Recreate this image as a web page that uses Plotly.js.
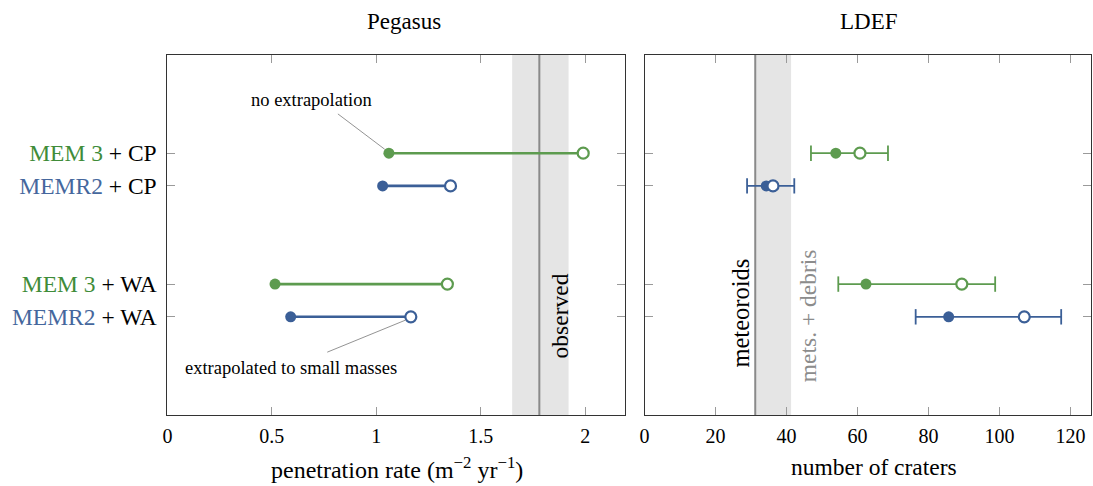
<!DOCTYPE html>
<html>
<head>
<meta charset="utf-8">
<script src="https://cdn.plot.ly/plotly-3.0.1.min.js"></script>
</head>
<body style="margin:0;background:#fff">
<div id="chart"></div>
<script>
// ---- data ----
const rowModels = ['MEM 3', 'MEMR2', 'MEM 3', 'MEMR2'];
const rowSurfaces = ['CP', 'CP', 'WA', 'WA'];
const rowSlots = [0, 1, 4, 5];
const pegasusNoExtrap = [1.06, 1.03, 0.515, 0.59];
const pegasusExtrap = [1.99, 1.355, 1.34, 1.165];
const ldefNoExtrap = [53.9, 34.3, 62.4, 85.7];
const ldefExtrap = [60.7, 36.2, 89.4, 107.0];
const ldefRangeLow = [46.9, 28.9, 54.6, 76.4];
const ldefRangeHigh = [68.6, 42.2, 98.8, 117.4];
const pegasusObserved = 1.78;
const pegasusObservedBand = [1.65, 1.92];
const ldefMeteoroidCraters = 31.2;
const ldefAllCraters = 41.3;
const pegasusTicks = [0, 0.5, 1, 1.5, 2];
const ldefTicks = [0, 20, 40, 60, 80, 100, 120];

// ---- styles ----
const GREEN = '#5d9b4f';
const BLUE = '#3b5f97';
const LABEL_GREEN = '#3f8c39';
const LABEL_BLUE = '#45679d';
const modelColor = m => (m === 'MEM 3' ? GREEN : BLUE);
const labelColor = m => (m === 'MEM 3' ? LABEL_GREEN : LABEL_BLUE);
const FONT = 'Liberation Serif';
const rowColors = rowModels.map(modelColor);
const rowText = rowModels.map((m, i) =>
  '<span style="color:' + labelColor(m) + '">' + m + '</span> + ' + rowSurfaces[i]);

const traces = [];
// Pegasus connecting lines
rowSlots.forEach((s, i) => {
  traces.push({
    x: [pegasusNoExtrap[i], pegasusExtrap[i]], y: [s, s],
    xaxis: 'x', yaxis: 'y', mode: 'lines', hoverinfo: 'skip',
    line: {color: rowColors[i], width: 2.6}, showlegend: false
  });
});
traces.push({
  x: pegasusNoExtrap, y: rowSlots, xaxis: 'x', yaxis: 'y', mode: 'markers',
  marker: {size: 11, color: rowColors, line: {width: 0}}, showlegend: false
});
traces.push({
  x: pegasusExtrap, y: rowSlots, xaxis: 'x', yaxis: 'y', mode: 'markers',
  marker: {size: 11, color: '#ffffff', line: {width: 2.2, color: rowColors}}, showlegend: false
});
// LDEF uncertainty ranges with end caps
rowSlots.forEach((s, i) => {
  traces.push({
    x: [ldefRangeLow[i], ldefRangeHigh[i]], y: [s, s], xaxis: 'x2', yaxis: 'y2',
    mode: 'lines+markers', line: {color: rowColors[i], width: 1.8},
    marker: {symbol: 'line-ns', size: 11, line: {width: 1.8, color: rowColors[i]}},
    showlegend: false
  });
});
traces.push({
  x: ldefNoExtrap, y: rowSlots, xaxis: 'x2', yaxis: 'y2', mode: 'markers',
  marker: {size: 11, color: rowColors, line: {width: 0}}, showlegend: false
});
traces.push({
  x: ldefExtrap, y: rowSlots, xaxis: 'x2', yaxis: 'y2', mode: 'markers',
  marker: {size: 11, color: '#ffffff', line: {width: 2.2, color: rowColors}}, showlegend: false
});

const frame = {
  showline: true, linecolor: '#333', linewidth: 1, mirror: 'ticks',
  ticks: 'inside', ticklen: 8, tickcolor: '#9a9a9a', tickwidth: 1,
  showgrid: false, zeroline: false, fixedrange: true
};

const layout = {
  width: 1093, height: 486,
  margin: {l: 0, r: 0, t: 55, b: 71},
  paper_bgcolor: '#fff', plot_bgcolor: '#fff',
  font: {family: FONT, color: '#000', size: 20},
  showlegend: false,
  xaxis: Object.assign({}, frame, {
    domain: [167.4 / 1093, 625 / 1093], range: [0, 2.19],
    tickvals: pegasusTicks, ticktext: pegasusTicks.map(String),
    tickfont: {family: FONT, size: 20, color: '#000'}, ticklabelstandoff: 3
  }),
  yaxis: Object.assign({}, frame, {
    domain: [0, 1], range: [8, -3], tickvals: rowSlots, ticktext: rowText,
    tickfont: {family: FONT, size: 23.5, color: '#000'}, ticklabelstandoff: 5
  }),
  xaxis2: Object.assign({}, frame, {
    domain: [644.5 / 1093, 1091 / 1093], range: [0, 125.8],
    tickvals: ldefTicks, ticktext: ldefTicks.map(String),
    tickfont: {family: FONT, size: 20, color: '#000'}, ticklabelstandoff: 3
  }),
  yaxis2: Object.assign({}, frame, {
    domain: [0, 1], range: [8, -3], tickvals: rowSlots, showticklabels: false, anchor: 'x2'
  }),
  shapes: [
    {type: 'rect', xref: 'x', yref: 'paper', x0: pegasusObservedBand[0], x1: pegasusObservedBand[1], y0: 0, y1: 1,
     fillcolor: '#e5e5e5', line: {width: 0}, layer: 'below'},
    {type: 'line', xref: 'x', yref: 'paper', x0: pegasusObserved, x1: pegasusObserved, y0: 0, y1: 1,
     line: {color: '#8a8a8a', width: 2}, layer: 'below'},
    {type: 'rect', xref: 'x2', yref: 'paper', x0: ldefMeteoroidCraters, x1: ldefAllCraters, y0: 0, y1: 1,
     fillcolor: '#e5e5e5', line: {width: 0}, layer: 'below'},
    {type: 'line', xref: 'x2', yref: 'paper', x0: ldefMeteoroidCraters, x1: ldefMeteoroidCraters, y0: 0, y1: 1,
     line: {color: '#8a8a8a', width: 2}, layer: 'below'},
    {type: 'line', xref: 'x', yref: 'y', x0: 0.816, y0: -1.2, x1: 1.04, y1: -0.12, line: {color: '#777', width: 0.8}},
    {type: 'line', xref: 'x', yref: 'y', x0: 0.765, y0: 6.08, x1: 1.14, y1: 5.1, line: {color: '#777', width: 0.8}}
  ],
  annotations: [
    {text: 'Pegasus', xref: 'paper', yref: 'paper', x: 404 / 1093, xanchor: 'center', y: 1, yanchor: 'middle', yshift: 34, showarrow: false, font: {family: FONT, size: 23, color: '#000'}},
    {text: 'LDEF', xref: 'paper', yref: 'paper', x: 869 / 1093, xanchor: 'center', y: 1, yanchor: 'middle', yshift: 34, showarrow: false, font: {family: FONT, size: 23, color: '#000'}},
    {text: 'penetration rate (m<sup>−2</sup> yr<sup>−1</sup>)', xref: 'paper', yref: 'paper', x: 396.5 / 1093, xanchor: 'center', y: 0, yanchor: 'middle', yshift: -53, showarrow: false, font: {family: FONT, size: 24, color: '#000'}},
    {text: 'number of craters', xref: 'paper', yref: 'paper', x: 874 / 1093, xanchor: 'center', y: 0, yanchor: 'middle', yshift: -52, showarrow: false, font: {family: FONT, size: 23.5, color: '#000'}},
    {text: 'no extrapolation', xref: 'x', yref: 'y', x: 0.69, y: -1.64, showarrow: false, font: {family: FONT, size: 18.5, color: '#000'}},
    {text: 'extrapolated to small masses', xref: 'x', yref: 'y', x: 0.59, y: 6.55, showarrow: false, font: {family: FONT, size: 18.5, color: '#000'}},
    {text: 'observed', xref: 'x', yref: 'y', x: 1.88, y: 4.98, textangle: -90, showarrow: false, font: {family: FONT, size: 23.5, color: '#000'}},
    {text: 'meteoroids', xref: 'x2', yref: 'y2', x: 27.2, y: 4.9, textangle: -90, showarrow: false, font: {family: FONT, size: 24.5, color: '#000'}},
    {text: 'mets. + debris', xref: 'x2', yref: 'y2', x: 45.9, y: 4.97, textangle: -90, showarrow: false, font: {family: FONT, size: 23.5, color: '#8c8c8c'}}
  ]
};

Plotly.newPlot('chart', traces, layout, {displayModeBar: false, staticPlot: true});
</script>
</body>
</html>
